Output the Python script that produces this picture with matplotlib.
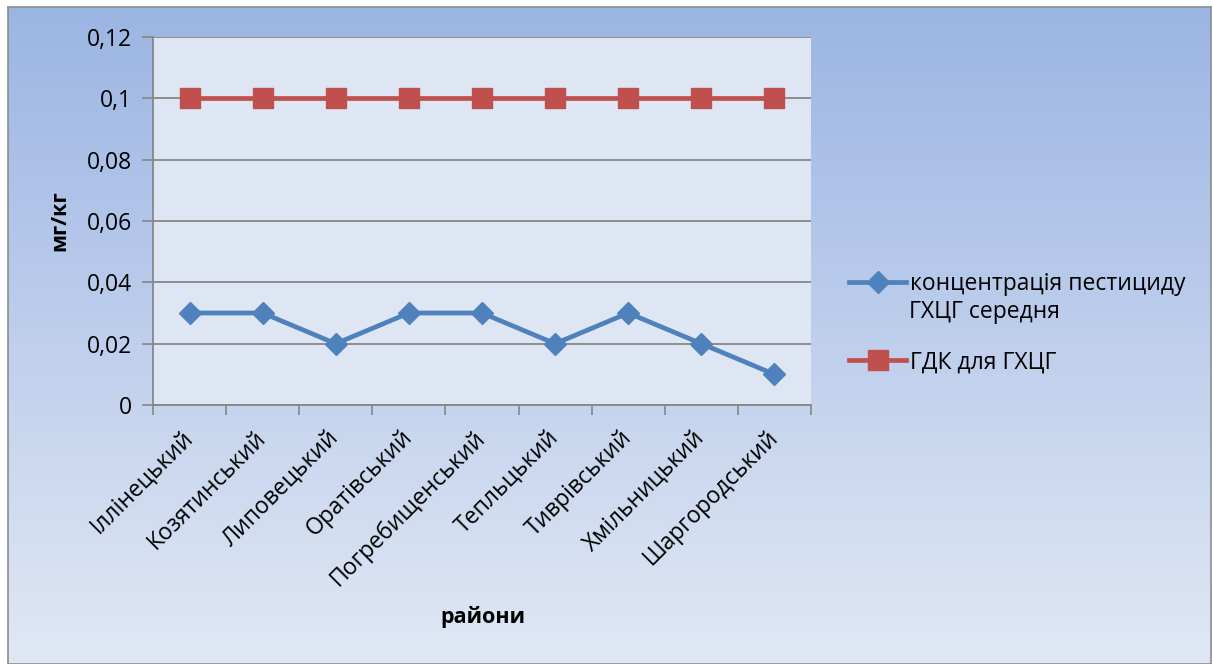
import numpy as np
import matplotlib.pyplot as plt
from matplotlib.colors import LinearSegmentedColormap

plt.rcParams['font.family'] = ['Open Sans', 'DejaVu Sans']

districts = ['Іллінецький', 'Козятинський', 'Липовецький', 'Оратівський',
             'Погребищенський', 'Тепльцький', 'Тиврівський', 'Хмільницький',
             'Шаргородський']
concentration = [0.03, 0.03, 0.02, 0.03, 0.03, 0.02, 0.03, 0.02, 0.01]
limit = [0.1] * 9
y_ticks = [0, 0.02, 0.04, 0.06, 0.08, 0.10, 0.12]
y_tick_labels = ['0', '0,02', '0,04', '0,06', '0,08', '0,1', '0,12']

W, H = 1213, 664
FS = 16.5
fig = plt.figure(figsize=(W / 100, H / 100), dpi=100)
fig.patch.set_facecolor('white')

# gradient backdrop of the chart box
bg = fig.add_axes([8 / W, 0, (1211 - 8) / W, (H - 7) / H], zorder=0)
grad = LinearSegmentedColormap.from_list('bg', ['#9bb5e3', '#e1e8f5'])
bg.imshow(np.linspace(0, 1, 256).reshape(-1, 1), aspect='auto', cmap=grad,
          extent=[0, 1, 0, 1], origin='upper')
bg.set_xlim(0, 1)
bg.set_ylim(0, 1)
bg.set_xticks([])
bg.set_yticks([])
for s in bg.spines.values():
    s.set_color('#8c8c8c')
    s.set_linewidth(1.2)

# plot area
x0, x1, ytop, ybot = 153, 811, 37, 405
ax = fig.add_axes([x0 / W, 1 - ybot / H, (x1 - x0) / W, (ybot - ytop) / H], zorder=1)
ax.set_facecolor('#dde6f2')

x = np.arange(len(districts))
ax.plot(x, concentration, color='#4f81bd', lw=3.4, marker='D', markersize=11,
        label='концентрація пестициду', zorder=3)
ax.plot(x, limit, color='#c0504d', lw=3.4, marker='s', markersize=14,
        label='ГДК для ГХЦГ', zorder=3)

ax.set_xlim(-0.5, len(districts) - 0.5)
ax.set_ylim(0, 0.12)
ax.set_yticks(y_ticks)
ax.set_yticklabels(y_tick_labels, fontsize=FS)
ax.yaxis.grid(True, color='#868686', lw=1.3)
ax.set_axisbelow(True)

ax.set_xticks(np.arange(len(districts) + 1) - 0.5)
ax.set_xticklabels([])
ax.tick_params(axis='x', length=7, width=1.2, color='#868686', direction='out')
ax.tick_params(axis='y', length=8, width=1.2, color='#868686', direction='out', pad=7)
for i, name in enumerate(districts):
    ax.annotate(name, xy=(i, 0), xycoords=('data', 'axes fraction'),
                xytext=(0, -21), textcoords='offset points',
                rotation=45, rotation_mode='anchor', ha='right', va='center',
                fontsize=FS)

for side in ('top', 'right'):
    ax.spines[side].set_visible(False)
for side in ('left', 'bottom'):
    ax.spines[side].set_color('#868686')
    ax.spines[side].set_linewidth(1.3)

ax.set_ylabel('мг/кг', fontsize=15.5, fontweight='bold', labelpad=12)
fig.text(483 / W, 1 - 617 / H, 'райони', fontsize=15.5, fontweight='bold',
         ha='center', va='center')

leg = fig.legend(loc='upper left', bbox_to_anchor=(849 / W, 1 - 272 / H),
                 frameon=False, fontsize=FS, handlelength=2.5, handletextpad=0.15,
                 labelspacing=2.37, borderaxespad=0, borderpad=0)
# second line of the first legend entry
fig.text(909 / W, 1 - 312 / H, 'ГХЦГ середня', fontsize=FS, ha='left', va='center')

fig.savefig('out.png', dpi=100)
